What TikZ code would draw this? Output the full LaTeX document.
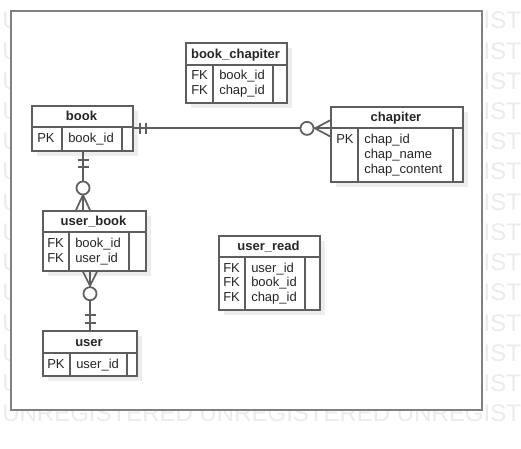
\documentclass[tikz,border=0pt]{standalone}
\usepackage{fontspec}
\setmainfont{Liberation Sans}
\usetikzlibrary{calc}
\definecolor{tline}{HTML}{5E5E5E}
\definecolor{frameline}{HTML}{808080}
\definecolor{shadowc}{HTML}{EDEDED}
\definecolor{wmark}{HTML}{EBEBEB}
\newcommand\ertable[8]{%
  \fill[shadowc] (#2+6,#3+6) rectangle (#4+6,#6+6);
  \node[tbox, minimum width={(#4-#2)*0.75pt}, minimum height={(#6-#3)*0.75pt}] (#1) at (#2,#3) {};
  \draw[tin] (#2,#5) -- (#4,#5) (#7,#5) -- (#7,#6) (#8,#5) -- (#8,#6);
}
\begin{document}
\begin{tikzpicture}[x=0.75pt,y=-0.75pt,
  tbox/.style={draw=tline, line width=1.3pt, fill=white, inner sep=0pt, anchor=north west},
  tin/.style={draw=tline, line width=1.3pt},
  conn/.style={draw=tline, line width=1.3pt},
  ttl/.style={inner sep=0pt, anchor=base, font=\fontsize{9.75}{11}\selectfont\bfseries, text=black!85},
  fld/.style={inner sep=0pt, anchor=base west, font=\fontsize{9.75}{11}\selectfont, text=black!85},
  wm/.style={inner sep=0pt, anchor=base west, font=\fontsize{18}{20}\selectfont, text=wmark}]
\useasboundingbox (0,0) rectangle (521,449);
\begin{scope}
  \clip (0,0) rectangle (521,449);
  \foreach \k in {0,...,13}
    \node[wm] (wm\k) at (2,{29+30.2*\k}) {UNREGISTERED UNREGISTERED UNREGISTERED};
\end{scope}
\node[draw=frameline, line width=1.6pt, fill=white, inner sep=0pt, anchor=north west,
  minimum width={471*0.75pt}, minimum height={399*0.75pt}] (frame) at (10,10) {};

% book_chapiter
\ertable{bookchap}{185}{42}{286}{65}{102}{213}{273}
\node[ttl] (bookchapT) at (235.5,58.5) {book\_chapiter};
\node[fld] (bc1) at (191,80) {FK};
\node[fld] (bc2) at (219,80) {book\_id};
\node[fld] (bc3) at (191,94.5) {FK};
\node[fld] (bc4) at (219,94.5) {chap\_id};

% book
\ertable{book}{31}{105}{132}{127}{150}{62}{122}
\node[ttl] (bookT) at (81.5,121) {book};
\node[fld] (b1) at (37,143) {PK};
\node[fld] (b2) at (68,143) {book\_id};

% chapiter
\ertable{chapiter}{330}{106}{462}{128}{181}{358}{453}
\node[ttl] (chapT) at (396,121.7) {chapiter};
\node[fld] (ch1) at (336,143.3) {PK};
\node[fld] (ch2) at (364,143.3) {chap\_id};
\node[fld] (ch3) at (364,158.3) {chap\_name};
\node[fld] (ch4) at (364,173.3) {chap\_content};

% user_book
\ertable{userbook}{42}{210}{145}{232}{270}{69}{129}
\node[ttl] (ubT) at (93.5,225.5) {user\_book};
\node[fld] (ub1) at (47,247.5) {FK};
\node[fld] (ub2) at (75,247.5) {book\_id};
\node[fld] (ub3) at (47,262) {FK};
\node[fld] (ub4) at (75,262) {user\_id};

% user
\ertable{user}{42}{330}{136}{353}{375}{70}{127}
\node[ttl] (uT) at (89,346.5) {user};
\node[fld] (u1) at (47,368.5) {PK};
\node[fld] (u2) at (76,368.5) {user\_id};

% user_read
\ertable{userread}{218}{235}{319}{257}{309}{245}{305}
\node[ttl] (urT) at (268.5,250.5) {user\_read};
\node[fld] (ur1) at (223,272) {FK};
\node[fld] (ur2) at (251,272) {user\_id};
\node[fld] (ur3) at (223,286.8) {FK};
\node[fld] (ur4) at (251,286.8) {book\_id};
\node[fld] (ur5) at (223,301.6) {FK};
\node[fld] (ur6) at (251,301.6) {chap\_id};

% book -- chapiter
\coordinate (c1a) at (book.east);
\coordinate (c1b) at (book.east -| chapiter.west);
\draw[conn] (c1a) -- (c1b);
\draw[conn] ($(c1a)+(6,-5.5)$) -- ++(0,11) ($(c1a)+(12,-5.5)$) -- ++(0,11);
\draw[conn] ($(c1b)+(-15,0)$) -- ($(c1b)+(0,-8)$) ($(c1b)+(-15,0)$) -- ($(c1b)+(0,8)$);
\draw[conn, fill=white] ($(c1b)+(-23,0)$) circle (4.9pt);

% book -- user_book
\coordinate (c2a) at ($(book.south west)+(52,0)$);
\coordinate (c2b) at (c2a |- userbook.north);
\draw[conn] (c2a) -- (c2b);
\draw[conn] ($(c2a)+(-5.5,8)$) -- ++(11,0) ($(c2a)+(-5.5,15)$) -- ++(11,0);
\draw[conn] ($(c2b)+(0,-15)$) -- ($(c2b)+(-7,0)$) ($(c2b)+(0,-15)$) -- ($(c2b)+(7,0)$);
\draw[conn, fill=white] ($(c2b)+(0,-22)$) circle (4.9pt);

% user_book -- user
\coordinate (c3a) at ($(userbook.south west)+(48,0)$);
\coordinate (c3b) at (c3a |- user.north);
\draw[conn] (c3a) -- (c3b);
\draw[conn] ($(c3a)+(-7,0)$) -- ($(c3a)+(0,14)$) ($(c3a)+(7,0)$) -- ($(c3a)+(0,14)$);
\draw[conn, fill=white] ($(c3a)+(0,22)$) circle (4.9pt);
\draw[conn] ($(c3b)+(-5.5,-15)$) -- ++(11,0) ($(c3b)+(-5.5,-7)$) -- ++(11,0);
\end{tikzpicture}
\end{document}
